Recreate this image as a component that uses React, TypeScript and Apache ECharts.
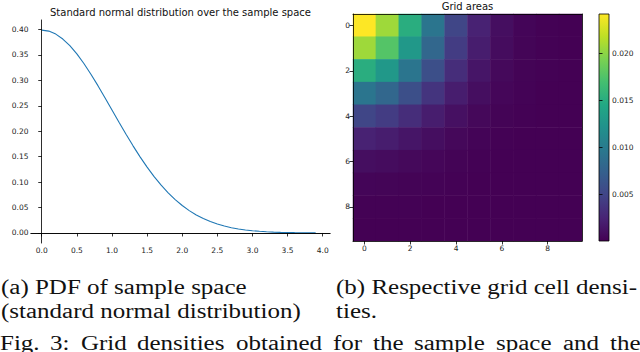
import React, { useEffect, useRef } from "react";
import * as echarts from "echarts";

// Left panel: standard normal PDF over the sample space
const pdfX = [0.0, 0.1, 0.2, 0.3, 0.4, 0.5, 0.6, 0.7, 0.8, 0.9, 1.0, 1.1, 1.2, 1.3, 1.4, 1.5, 1.6, 1.7, 1.8, 1.9, 2.0, 2.1, 2.2, 2.3, 2.4, 2.5, 2.6, 2.7, 2.8, 2.9, 3.0, 3.1, 3.2, 3.3, 3.4, 3.5, 3.6, 3.7, 3.8, 3.9];
const pdfY = [0.39894, 0.39695, 0.39104, 0.38139, 0.36827, 0.35207, 0.33322, 0.31225, 0.28969, 0.26609, 0.24197, 0.21785, 0.19419, 0.17137, 0.14973, 0.12952, 0.11092, 0.09405, 0.07895, 0.06562, 0.05399, 0.04398, 0.03547, 0.02833, 0.02239, 0.01753, 0.01358, 0.01042, 0.00792, 0.00595, 0.00443, 0.00327, 0.00238, 0.00172, 0.00123, 0.00087, 0.00061, 0.00042, 0.00029, 0.0002];
const pdfXTicks = [0, 0.5, 1, 1.5, 2, 2.5, 3, 3.5, 4];
const pdfYTicks = [0, 0.05, 0.1, 0.15, 0.2, 0.25, 0.3, 0.35, 0.4];

// Right panel: grid cell densities (rows top->bottom, columns left->right)
const gridCats = ["0", "1", "2", "3", "4", "5", "6", "7", "8", "9"];
const gridRow0 = [0.024155, 0.020627, 0.015043, 0.009367, 0.004981, 0.002261, 0.000877, 0.000291, 0.000082, 0.00002];
const gridRow1 = [0.020627, 0.017615, 0.012846, 0.007999, 0.004254, 0.001931, 0.000749, 0.000248, 0.00007, 0.000017];
const gridRow2 = [0.015043, 0.012846, 0.009368, 0.005834, 0.003102, 0.001408, 0.000546, 0.000181, 0.000051, 0.000013];
const gridRow3 = [0.009367, 0.007999, 0.005834, 0.003632, 0.001932, 0.000877, 0.00034, 0.000113, 0.000032, 0.000008];
const gridRow4 = [0.004981, 0.004254, 0.003102, 0.001932, 0.001027, 0.000466, 0.000181, 0.00006, 0.000017, 0.000004];
const gridRow5 = [0.002261, 0.001931, 0.001408, 0.000877, 0.000466, 0.000212, 0.000082, 0.000027, 0.000008, 0.000002];
const gridRow6 = [0.000877, 0.000749, 0.000546, 0.00034, 0.000181, 0.000082, 0.000032, 0.000011, 0.000003, 0.000001];
const gridRow7 = [0.000291, 0.000248, 0.000181, 0.000113, 0.00006, 0.000027, 0.000011, 0.000003, 0.000001, 0.0];
const gridRow8 = [0.000082, 0.00007, 0.000051, 0.000032, 0.000017, 0.000008, 0.000003, 0.000001, 0.0, 0.0];
const gridRow9 = [0.00002, 0.000017, 0.000013, 0.000008, 0.000004, 0.000002, 0.000001, 0.0, 0.0, 0.0];
const gridRows = [gridRow0, gridRow1, gridRow2, gridRow3, gridRow4, gridRow5, gridRow6, gridRow7, gridRow8, gridRow9];
const colorbarMax = 0.024155;
const colorbarTicks = [0.005, 0.01, 0.015, 0.02];

const viridis = ["#440154", "#482475", "#414487", "#355f8d", "#2a788e", "#21918c", "#22a884", "#44bf70", "#7ad151", "#bddf26", "#fde725"];

const captionA1 = "(a) PDF of sample space";
const captionA2 = "(standard normal distribution)";
const captionB1 = "(b) Respective grid cell densi-";
const captionB2 = "ties.";
const figWords = ["Fig.", "3:", "Grid", "densities", "obtained", "for", "the", "sample", "space", "and", "the"];
const figWordX = [0, 50, 81, 137, 236, 333, 373, 414, 496, 563, 610];

export default function App() {
  const ref = useRef<HTMLDivElement>(null);
  useEffect(() => {
    if (!ref.current) return;
    const chart = echarts.init(ref.current, null, { renderer: "svg" });
    const tickFont = { fontSize: 7.5, fontFamily: "DejaVu Sans", color: "#222" };
    const heatData: any[] = [];
    gridRows.forEach((row, r) => row.forEach((v, c) => heatData.push([c, r, v])));
    const serif = "Liberation Serif";
    const capStyle = (text: string) => ({ text, fontSize: 20, fontFamily: serif, fill: "#111", align: "left", verticalAlign: "middle" });
    const graphics: any[] = [
      { type: "text", x: 180.5, y: 12.5, style: { text: "Standard normal distribution over the sample space", fontSize: 10, fontFamily: "DejaVu Sans", fill: "#111", align: "center", verticalAlign: "middle" } },
      { type: "text", x: 467.5, y: 6.5, style: { text: "Grid areas", fontSize: 10, fontFamily: "DejaVu Sans", fill: "#111", align: "center", verticalAlign: "middle" } },
      { type: "text", x: 1, y: 287, scaleX: 1.25, style: capStyle(captionA1) },
      { type: "text", x: 1, y: 311, scaleX: 1.25, style: capStyle(captionA2) },
      { type: "text", x: 336, y: 287, scaleX: 1.25, style: capStyle(captionB1) },
      { type: "text", x: 336, y: 311, scaleX: 1.25, style: capStyle(captionB2) },
    ];
    figWords.forEach((w, i) => graphics.push({ type: "text", x: figWordX[i], y: 343, scaleX: 1.25, style: capStyle(w) }));

    chart.setOption({
      animation: false,
      backgroundColor: "#fff",
      grid: [
        { left: 31, top: 20, width: 299, height: 223 },
        { left: 353, top: 14, width: 229, height: 227 },
        {
          left: 599, top: 14, width: 10, height: 227, show: true, borderColor: "#000", borderWidth: 0.8,
          backgroundColor: {
            type: "linear", x: 0, y: 0, x2: 0, y2: 1,
            colorStops: viridis.slice().reverse().map((c, i) => ({ offset: i / (viridis.length - 1), color: c })),
          },
        },
      ],
      xAxis: [
        {
          gridIndex: 0, type: "value", min: -0.153, max: 4.104, z: 5,
          axisLine: { show: true, lineStyle: { color: "#000", width: 0.8 } },
          axisTick: { show: true, customValues: pdfXTicks, length: 3.5, lineStyle: { color: "#000", width: 0.8 } },
          axisLabel: { ...tickFont, customValues: pdfXTicks, margin: 3, formatter: (v: number) => v.toFixed(1) },
          splitLine: { show: false },
        },
        {
          gridIndex: 0, type: "value", position: "top", min: -0.153, max: 4.104, z: 5,
          axisLine: { show: true, lineStyle: { color: "#000", width: 0.8 } },
          axisTick: { show: false }, axisLabel: { show: false }, splitLine: { show: false },
        },
        {
          gridIndex: 1, type: "category", data: gridCats, z: 5,
          axisLine: { show: true, lineStyle: { color: "#000", width: 0.8 } },
          axisTick: { show: true, alignWithLabel: true, interval: 1, length: 3.5, lineStyle: { color: "#000", width: 0.8 } },
          axisLabel: { ...tickFont, interval: 1, margin: 3 },
          splitLine: { show: false },
        },
        {
          gridIndex: 1, type: "category", data: gridCats, position: "top", z: 5,
          axisLine: { show: true, lineStyle: { color: "#000", width: 0.8 } },
          axisTick: { show: false }, axisLabel: { show: false }, splitLine: { show: false },
        },
        { gridIndex: 2, type: "value", min: 0, max: 1, show: false },
      ],
      yAxis: [
        {
          gridIndex: 0, type: "value", min: -0.0197, max: 0.4188, z: 5,
          axisLine: { show: true, lineStyle: { color: "#d8d8d8", width: 0.8 } },
          axisTick: { show: true, customValues: pdfYTicks, length: 3.5, lineStyle: { color: "#000", width: 0.8 } },
          axisLabel: { ...tickFont, customValues: pdfYTicks, margin: 2.5, formatter: (v: number) => v.toFixed(2) },
          splitLine: { show: false },
        },
        {
          gridIndex: 0, type: "value", position: "right", min: -0.0197, max: 0.4188, z: 5,
          axisLine: { show: true, lineStyle: { color: "#000", width: 0.8 } },
          axisTick: { show: false }, axisLabel: { show: false }, splitLine: { show: false },
        },
        {
          gridIndex: 1, type: "category", data: gridCats, inverse: true, z: 5,
          axisLine: { show: true, lineStyle: { color: "#000", width: 0.8 } },
          axisTick: { show: true, alignWithLabel: true, interval: 1, length: 3.5, lineStyle: { color: "#000", width: 0.8 } },
          axisLabel: { ...tickFont, interval: 1, margin: 3 },
          splitLine: { show: false },
        },
        {
          gridIndex: 1, type: "category", data: gridCats, inverse: true, position: "right", z: 5,
          axisLine: { show: true, lineStyle: { color: "#000", width: 0.8 } },
          axisTick: { show: false }, axisLabel: { show: false }, splitLine: { show: false },
        },
        {
          gridIndex: 2, type: "value", position: "right", min: 0, max: colorbarMax, z: 5,
          axisLine: { show: false },
          axisTick: { show: true, customValues: colorbarTicks, length: 3.5, lineStyle: { color: "#000", width: 0.8 } },
          axisLabel: { ...tickFont, customValues: colorbarTicks, margin: 3, formatter: (v: number) => v.toFixed(3) },
          splitLine: { show: false },
        },
      ],
      visualMap: {
        type: "continuous", show: false, min: 0, max: colorbarMax, seriesIndex: 1,
        inRange: { color: viridis },
      },
      series: [
        {
          type: "line", xAxisIndex: 0, yAxisIndex: 0,
          data: pdfX.map((x, i) => [x, pdfY[i]]),
          showSymbol: false, symbol: "none",
          lineStyle: { color: "#1f77b4", width: 1.1 },
        },
        {
          type: "heatmap", xAxisIndex: 2, yAxisIndex: 2,
          data: heatData,
          itemStyle: { borderWidth: 0 },
          emphasis: { disabled: true },
        },
      ],
      graphic: graphics,
    });
    return () => chart.dispose();
  }, []);
  return <div ref={ref} style={{ position: "fixed", left: 0, top: 0, width: 640, height: 352 }} />;
}
